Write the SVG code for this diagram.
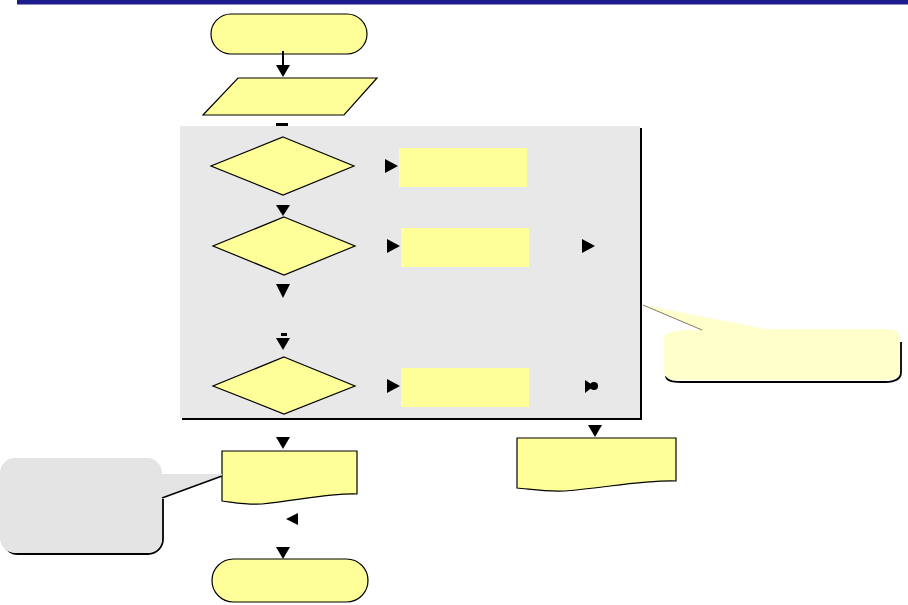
<svg xmlns="http://www.w3.org/2000/svg" width="908" height="605" viewBox="0 0 908 605">
<style>
.n{fill:#ffff99;stroke:#000;stroke-width:1.2}
.nb{fill:#ffff99;stroke:none}
.ah{fill:#000}
.ln{stroke:#000;stroke-width:2;fill:none}
.sh{stroke:#000;stroke-width:1.8;fill:none}
</style>
<rect width="908" height="605" fill="#fff"/>
<rect x="17" y="0" width="891" height="4.5" fill="#1c1c8e"/>
<g id="panel">
<rect x="182" y="128" width="460" height="292" fill="#000"/>
<rect x="180" y="126" width="460" height="292" fill="#e8e8e8"/>
</g>
<g id="start"><rect class="n" x="211" y="14" width="156" height="40" rx="20"/></g>
<g id="input"><polygon class="n" points="238,78 377,78 344,115 203,115"/></g>
<g id="dec1"><polygon class="n" points="283,137 354,166 283,195 211,166"/></g>
<g id="proc1"><rect class="nb" x="399" y="148" width="128" height="39"/></g>
<g id="dec2"><polygon class="n" points="284,217 355,246 284,275 213,246"/></g>
<g id="proc2"><rect class="nb" x="401" y="228" width="128" height="39"/></g>
<g id="dec3"><polygon class="n" points="284,357 355,386 284,414 213,386"/></g>
<g id="proc3"><rect class="nb" x="401" y="368" width="128" height="39"/></g>
<g id="out1"><path class="n" d="M222,451 H357 V494 C330,493 300,500 262,504 C245,505 232,502 222,501 Z"/></g>
<g id="out2"><path class="n" d="M517,438 H676 V481 C645,480 610,487 565,491 C545,492 530,489 517,488 Z"/></g>
<g id="end"><rect class="n" x="212" y="559" width="156" height="43" rx="21.5"/></g>
<g id="callout-left">
<path class="sh" d="M163,499 V539 A15,15 0 0 1 148,554 H18 A15,15 0 0 1 4,545"/>
<path d="M15,458 H147 A15,15 0 0 1 162,473 V474 H222 V476 L162,498 V538 A15,15 0 0 1 147,553 H15 A15,15 0 0 1 0,538 V473 A15,15 0 0 1 15,458 Z" fill="#e4e4e4"/>
<line x1="162" y1="498" x2="222" y2="476" stroke="#000" stroke-width="1.5"/>
</g>
<g id="callout-right">
<path class="sh" d="M901,342 V372 Q901,382 885,382 H681 Q666,382 666,376"/>
<path d="M664,338 Q664,330 690,330 L702,330 L643,305 L765,329 H884 Q900,329 900,338 V371 Q900,380 884,380 H680 Q664,380 664,372 Z" fill="#ffffcc"/>
<line x1="643" y1="305" x2="702" y2="330" stroke="#807c60" stroke-width="1"/>
</g>
<g id="connectors">
<line class="ln" x1="283" y1="51" x2="283" y2="66"/>
<polygon class="ah" points="276,65 290,65 283,77"/>
<rect x="276" y="123" width="12" height="3" fill="#000"/>
<polygon class="ah" points="385,159 385,173 398,166"/>
<polygon class="ah" points="276,205 290,205 283,216"/>
<polygon class="ah" points="387,239 387,253 400,246"/>
<polygon class="ah" points="582,239 582,253 595,246"/>
<polygon class="ah" points="276,284 290,284 283,298"/>
<rect x="281" y="333" width="6" height="3" fill="#000"/>
<polygon class="ah" points="276,338 290,338 283,350"/>
<polygon class="ah" points="387,379 387,393 400,386"/>
<polygon class="ah" points="585,380 585,393 594,386"/>
<circle cx="594" cy="386" r="4" fill="#000"/>
<polygon class="ah" points="276,437 290,437 283,449"/>
<polygon class="ah" points="588,425 602,425 595,437"/>
<polygon class="ah" points="298,513 298,525 286,519"/>
<polygon class="ah" points="276,547 290,547 283,559"/>
</g>
</svg>
